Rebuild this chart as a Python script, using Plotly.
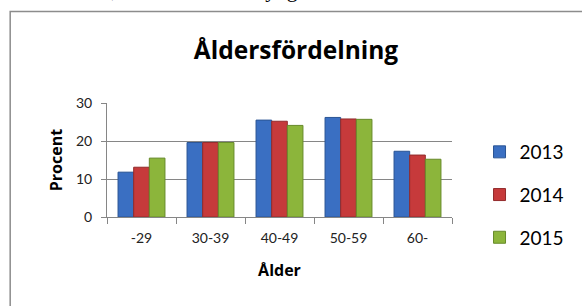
import plotly.graph_objects as go

categories = ["-29", "30-39", "40-49", "50-59", "60-"]
years = ["2013", "2014", "2015"]
values_2013 = [11.8, 19.6, 25.5, 26.2, 17.3]
values_2014 = [13.1, 19.6, 25.2, 25.8, 16.3]
values_2015 = [15.5, 19.6, 24.1, 25.7, 15.2]
y_ticks = [0, 10, 20, 30]

colors = {"2013": "#3a6fc2", "2014": "#c63a3b", "2015": "#8cb53b"}
edges = {"2013": "#2a5494", "2014": "#922b2c", "2015": "#678a2a"}
series = {"2013": values_2013, "2014": values_2014, "2015": values_2015}

FONT = "Lato"
BOLD = "Open Sans"
W, H = 582, 306
L, R, T, B = 107, 124, 103, 89
PW, PH = W - L - R, H - T - B

def px(X):
    return (X - L) / PW

def py(Y):
    return (H - B - Y) / PH

fig = go.Figure()
for yr in years:
    fig.add_trace(go.Bar(
        x=categories, y=series[yr], name=yr, legendgroup=yr,
        marker=dict(color=colors[yr], line=dict(color=edges[yr], width=1)),
    ))

fig.update_layout(
    width=W, height=H,
    margin=dict(l=L, r=R, t=T, b=B, pad=0),
    paper_bgcolor="white", plot_bgcolor="white",
    barmode="group", bargap=0.32, bargroupgap=0.0,
    font=dict(family=FONT, color="#000000"),
    title=dict(text="<b>Åldersfördelning</b>", x=296 / W, xanchor="center",
               y=1 - 50 / H, yanchor="middle",
               font=dict(family=BOLD, size=24.5, color="#000000")),
    legend=dict(x=px(486), xanchor="left", y=py(133), yanchor="top",
                font=dict(family=FONT, size=19, color="#000000"),
                tracegroupgap=15, itemwidth=30, maxheight=300,
                bgcolor="rgba(0,0,0,0)"),
    xaxis=dict(
        showline=True, linecolor="#868686", linewidth=1,
        ticks="outside", tickson="boundaries", ticklen=6, tickcolor="#868686",
        tickfont=dict(family=FONT, size=14, color="#222222"),
        ticklabelstandoff=8,
        title=dict(text="<b>Ålder</b>", standoff=20,
                   font=dict(family=BOLD, size=16, color="#000000")),
    ),
    yaxis=dict(
        range=[0, 30], tickvals=y_ticks,
        showline=True, linecolor="#868686", linewidth=1,
        showgrid=True, gridcolor="#868686", gridwidth=1,
        ticks="outside", ticklen=5, tickcolor="#868686",
        tickfont=dict(family=FONT, size=14, color="#222222"),
        ticklabelstandoff=6,
        zeroline=False,
        title=dict(text="<b>Procent</b>", standoff=9,
                   font=dict(family=BOLD, size=16, color="#000000")),
    ),
    shapes=[dict(type="rect", xref="paper", yref="paper",
                 x0=px(8.5), x1=px(600), y0=py(400), y1=py(11.5),
                 line=dict(color="#8c8c8c", width=1.5), layer="below")],
    annotations=[dict(text="% är och 18,7% är 29 år eller yngre.",
                      xref="paper", yref="paper", x=px(4), y=py(4),
                      xanchor="left", yanchor="bottom", showarrow=False,
                      font=dict(family="Liberation Serif", size=21.5, color="#000000"))],
)

fig.write_html("out.html", config={"displayModeBar": False},
               post_script="document.body.style.margin='0px';document.body.style.overflow='hidden';")
